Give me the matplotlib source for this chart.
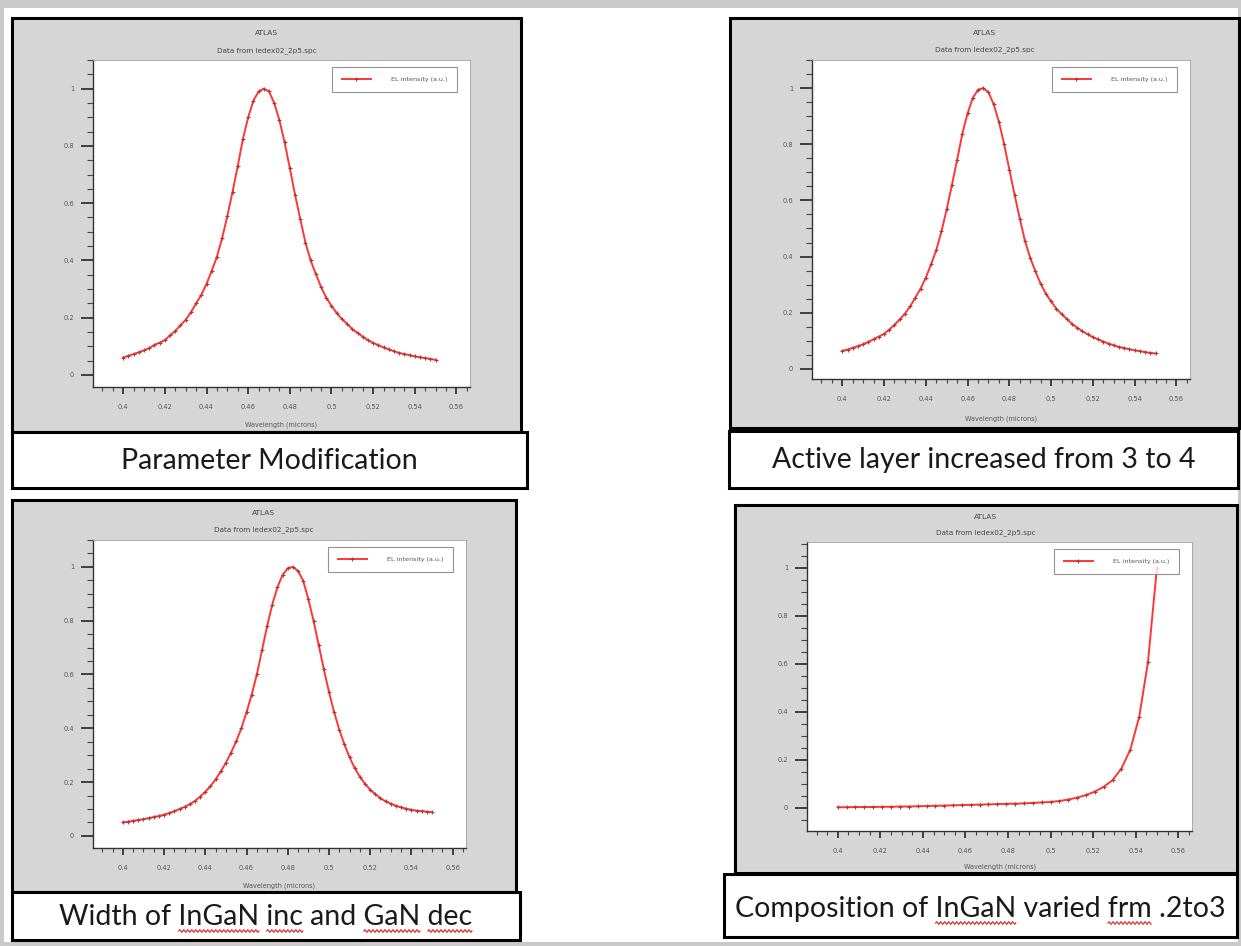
import matplotlib
matplotlib.use("Agg")
import matplotlib.pyplot as plt
import numpy as np
from matplotlib.patches import Rectangle
from matplotlib.lines import Line2D
from matplotlib.transforms import IdentityTransform
from matplotlib.ticker import MultipleLocator

W, H = 1241, 946

# wavelength grid (microns) for the three peaked spectra
wl_fine = [0.4000, 0.4025, 0.4050, 0.4075, 0.4100, 0.4125, 0.4150, 0.4175,
           0.4200, 0.4225, 0.4250, 0.4275, 0.4300, 0.4325, 0.4350, 0.4375,
           0.4400, 0.4425, 0.4450, 0.4475, 0.4500, 0.4525, 0.4550, 0.4575,
           0.4600, 0.4625, 0.4650, 0.4675, 0.4700, 0.4725, 0.4750, 0.4775,
           0.4800, 0.4825, 0.4850, 0.4875, 0.4900, 0.4925, 0.4950, 0.4975,
           0.5000, 0.5025, 0.5050, 0.5075, 0.5100, 0.5125, 0.5150, 0.5175,
           0.5200, 0.5225, 0.5250, 0.5275, 0.5300, 0.5325, 0.5350, 0.5375,
           0.5400, 0.5425, 0.5450, 0.5475, 0.5500]

el_param = [0.061, 0.067, 0.073, 0.079, 0.086, 0.094, 0.105, 0.113,
            0.122, 0.138, 0.154, 0.173, 0.193, 0.219, 0.250, 0.280,
            0.318, 0.364, 0.413, 0.478, 0.555, 0.640, 0.730, 0.825,
            0.900, 0.958, 0.990, 1.000, 0.990, 0.950, 0.890, 0.812,
            0.722, 0.630, 0.545, 0.462, 0.400, 0.352, 0.307, 0.270,
            0.242, 0.216, 0.195, 0.179, 0.160, 0.147, 0.134, 0.122,
            0.112, 0.104, 0.096, 0.089, 0.083, 0.077, 0.073, 0.069,
            0.065, 0.062, 0.059, 0.056, 0.053]

el_active = [0.064, 0.069, 0.075, 0.081, 0.088, 0.096, 0.106, 0.115,
             0.125, 0.140, 0.157, 0.176, 0.197, 0.223, 0.254, 0.286,
             0.325, 0.372, 0.423, 0.490, 0.568, 0.655, 0.745, 0.838,
             0.910, 0.965, 0.994, 1.000, 0.985, 0.942, 0.880, 0.800,
             0.710, 0.620, 0.535, 0.455, 0.395, 0.347, 0.303, 0.267,
             0.240, 0.215, 0.195, 0.178, 0.160, 0.147, 0.134, 0.123,
             0.113, 0.105, 0.097, 0.090, 0.084, 0.078, 0.074, 0.070,
             0.066, 0.063, 0.060, 0.057, 0.055]

el_width = [0.050, 0.053, 0.056, 0.059, 0.062, 0.066, 0.070, 0.074,
            0.079, 0.085, 0.092, 0.100, 0.108, 0.118, 0.130, 0.146,
            0.164, 0.185, 0.210, 0.240, 0.272, 0.310, 0.352, 0.400,
            0.460, 0.525, 0.600, 0.690, 0.780, 0.860, 0.925, 0.970,
            0.995, 1.000, 0.985, 0.948, 0.880, 0.800, 0.710, 0.620,
            0.535, 0.460, 0.395, 0.340, 0.292, 0.252, 0.220, 0.193,
            0.172, 0.155, 0.140, 0.128, 0.120, 0.112, 0.106, 0.101,
            0.097, 0.094, 0.092, 0.090, 0.088]

# coarser grid for the composition run
wl_comp = [0.4000, 0.4042, 0.4083, 0.4125, 0.4167, 0.4208, 0.4250, 0.4292,
           0.4333, 0.4375, 0.4417, 0.4458, 0.4500, 0.4542, 0.4583, 0.4625,
           0.4667, 0.4708, 0.4750, 0.4792, 0.4833, 0.4875, 0.4917, 0.4958,
           0.5000, 0.5042, 0.5083, 0.5125, 0.5167, 0.5208, 0.5250, 0.5292,
           0.5333, 0.5375, 0.5417, 0.5458, 0.5500]

el_comp = [0.003, 0.003, 0.004, 0.004, 0.004, 0.005, 0.005, 0.006,
           0.006, 0.007, 0.008, 0.009, 0.010, 0.011, 0.012, 0.013,
           0.014, 0.015, 0.016, 0.017, 0.018, 0.019, 0.021, 0.023,
           0.025, 0.029, 0.035, 0.043, 0.054, 0.068, 0.088, 0.116,
           0.164, 0.243, 0.380, 0.608, 1.000]

captions = ["Parameter Modification",
            "Active layer increased from 3 to 4",
            "Width of InGaN inc and GaN dec",
            "Composition of InGaN varied frm .2to3"]

title1 = "ATLAS"
title2 = "Data from ledex02_2p5.spc"
xlabel = "Wavelength (microns)"
legend_label = "EL intensity (a.u.)"

# layout in pixels (x0, y0, x1, y1), origin top-left
panels = [
    dict(x=wl_fine, y=el_param, gray=(12, 18, 521, 432), cap=(12, 432, 527, 488),
         ax=(93, 60, 470, 387), ylim=(-0.042, 1.10), ty=(33, 51), xly=421, cy=469),
    dict(x=wl_fine, y=el_active, gray=(730, 18, 1239, 428), cap=(729, 431, 1238, 488),
         ax=(812, 60, 1190, 379), ylim=(-0.036, 1.10), ty=(33, 50), xly=415, cy=468),
    dict(x=wl_fine, y=el_width, gray=(12, 500, 516, 892), cap=(12, 892, 520, 940),
         ax=(93, 540, 466, 848), ylim=(-0.045, 1.10), ty=(513, 530), xly=882, cy=925),
    dict(x=wl_comp, y=el_comp, gray=(735, 505, 1237, 873), cap=(724, 874, 1237, 937),
         ax=(807, 542, 1192, 831), ylim=(-0.096, 1.108), ty=(517, 533), xly=863, cy=917),
]

squiggles = [[], [], ["InGaN", "inc", "GaN", "dec"], ["InGaN", "frm"]]


def frac(box):
    x0, y0, x1, y1 = box
    return [x0 / W, 1 - y1 / H, (x1 - x0) / W, (y1 - y0) / H]


fig = plt.figure(figsize=(W / 100, H / 100), dpi=100)
fig.patch.set_facecolor("#c9c9c9")

# page area
fig.patches.append(Rectangle((4 / W, 4 / H), (1238 - 4) / W, (938 - 4) / H,
                             transform=fig.transFigure, facecolor="white",
                             edgecolor="none", zorder=0))
fig.patches.append(Rectangle((4 / W, (946 - 8) / H), 1, 8 / H,
                             transform=fig.transFigure, facecolor="#c9c9c9",
                             edgecolor="none", zorder=0))

cap_texts = []
for i, p in enumerate(panels):
    g = frac(p["gray"])
    fig.patches.append(Rectangle((g[0], g[1]), g[2], g[3], transform=fig.transFigure,
                                 facecolor="#d6d6d6", edgecolor="black",
                                 linewidth=2.2, zorder=1))
    c = frac(p["cap"])
    fig.patches.append(Rectangle((c[0], c[1]), c[2], c[3], transform=fig.transFigure,
                                 facecolor="white", edgecolor="black",
                                 linewidth=2.2, zorder=1))
    cx = (p["cap"][0] + p["cap"][2]) / 2
    t = fig.text(cx / W, 1 - p["cy"] / H, captions[i], ha="center", va="baseline",
                 fontsize=20.5, family="Lato", color="#1a1a1a", zorder=4)
    cap_texts.append(t)

    ax = fig.add_axes(frac(p["ax"]))
    ax.set_zorder(3)
    ax.set_facecolor("white")
    ax.plot(p["x"], p["y"], color="#ff3636", linewidth=1.4, marker="+",
            markersize=3.5, markeredgecolor="#a83c3c", markeredgewidth=0.8,
            label=legend_label)
    ax.set_xlim(0.3855, 0.5665)
    ax.set_ylim(*p["ylim"])
    ax.xaxis.set_minor_locator(MultipleLocator(0.005))
    ax.yaxis.set_minor_locator(MultipleLocator(0.05))
    ax.set_xticks([0.4, 0.42, 0.44, 0.46, 0.48, 0.5, 0.52, 0.54, 0.56])
    ax.set_xticklabels(["0.4", "0.42", "0.44", "0.46", "0.48", "0.5", "0.52", "0.54", "0.56"])
    ax.set_yticks([0, 0.2, 0.4, 0.6, 0.8, 1])
    ax.set_yticklabels(["0", "0.2", "0.4", "0.6", "0.8", "1"])
    ax.tick_params(axis="y", which="major", direction="out", length=8.5, width=1.3,
                   color="#333333", labelsize=4.8, labelcolor="#555555", pad=5)
    ax.tick_params(axis="y", which="minor", direction="out", length=4.5, width=0.8,
                   color="#444444")
    ax.tick_params(axis="x", which="major", direction="out", length=5, width=1.3,
                   color="#333333", labelsize=4.8, labelcolor="#555555", pad=7)
    ax.tick_params(axis="x", which="minor", direction="out", length=2.8, width=0.8,
                   color="#444444")
    for s in ["left", "bottom"]:
        ax.spines[s].set_color("#333333")
        ax.spines[s].set_linewidth(1.0)
    for s in ["top", "right"]:
        ax.spines[s].set_color("#a0a0a0")
        ax.spines[s].set_linewidth(0.6)

    ax.set_xlabel(xlabel, fontsize=4.7, color="#555555")
    axb = p["ax"]
    ax.xaxis.set_label_coords(0.5, -(p["xly"] - axb[3]) / (axb[3] - axb[1]))

    gx = (p["gray"][0] + p["gray"][2]) / 2
    fig.text(gx / W, 1 - p["ty"][0] / H, title1, ha="center", va="center",
             fontsize=5.4, color="#444444", zorder=4)
    fig.text(gx / W, 1 - p["ty"][1] / H, title2, ha="center", va="center",
             fontsize=5.2, color="#444444", zorder=4)

    aw = axb[2] - axb[0]
    ah = axb[3] - axb[1]
    leg = ax.legend(loc="upper right", bbox_to_anchor=(1 - 13 / aw, 1 - 7 / ah),
                    fontsize=4.6, frameon=True, fancybox=False, handlelength=4.5,
                    handletextpad=3.2, borderpad=1.5, borderaxespad=0)
    leg.get_frame().set_edgecolor("#777777")
    leg.get_frame().set_linewidth(0.8)
    for txt in leg.get_texts():
        txt.set_color("#555555")

# red spell-check squiggles under some caption words
fig.canvas.draw()
renderer = fig.canvas.get_renderer()
for t, words in zip(cap_texts, squiggles):
    if not words:
        continue
    s = t.get_text()
    bb = t.get_window_extent(renderer)
    fp = t.get_fontproperties()
    base = t.get_transform().transform(t.get_position())[1]
    pos = 0
    for w in words:
        idx = s.index(w, pos)
        pos = idx + len(w)
        wpre, _, _ = renderer.get_text_width_height_descent(s[:idx], fp, ismath=False)
        ww, _, _ = renderer.get_text_width_height_descent(w, fp, ismath=False)
        x0 = bb.x0 + wpre
        xs = np.arange(x0, x0 + ww, 1.0)
        ys = base - 6 + 1.3 * np.sin((xs - x0) * np.pi / 2.0)
        fig.lines.append(Line2D(xs, ys, transform=IdentityTransform(),
                                color="#e03030", linewidth=0.9, figure=fig, zorder=5))

fig.savefig("out.png", dpi=100, facecolor=fig.get_facecolor())
